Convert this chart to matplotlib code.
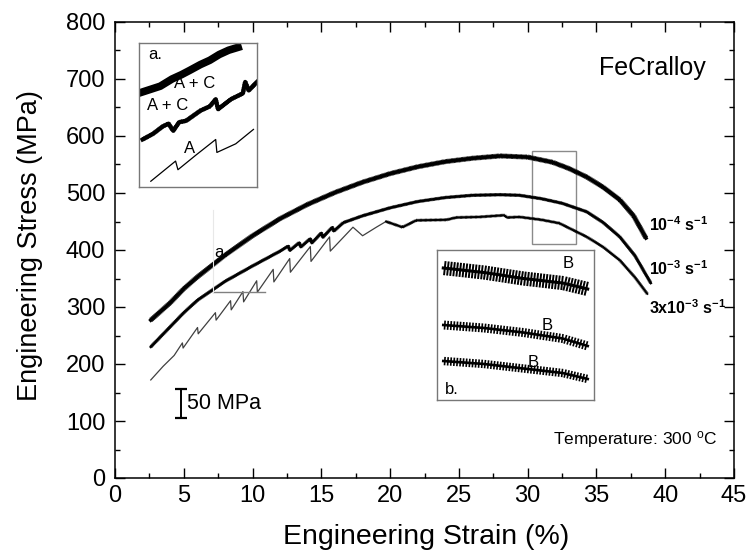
import matplotlib
matplotlib.use("Agg")
import matplotlib.pyplot as plt
import matplotlib.patheffects as pe
from matplotlib.patches import Rectangle
from matplotlib.ticker import MultipleLocator

plt.rcParams['font.family'] = ['Liberation Sans', 'DejaVu Sans']
plt.rcParams['mathtext.fontset'] = 'custom'
plt.rcParams['mathtext.rm'] = 'Liberation Sans'
plt.rcParams['mathtext.bf'] = 'Liberation Sans:bold'
plt.rcParams['mathtext.it'] = 'Liberation Sans:italic'

# ---------------- data ----------------
top_strain = [2.6, 4, 5, 6, 7, 8, 9, 10, 12, 14, 16, 18, 20, 22, 24, 26, 28, 30,
              31.8, 33, 34.3, 35.5, 36.7, 37.7, 38.6]
top_stress = [277, 307, 332, 353, 372, 391, 408, 425, 455, 480, 501, 519, 534, 546,
              555, 561, 565, 563, 554, 543, 528, 510, 488, 460, 421]

mid_strain = [2.6, 4, 5, 6, 8, 10, 12, 12.6, 12.7, 13.4, 13.5, 14.2, 14.3, 15.0, 15.1,
              15.8, 15.9, 16.6, 18, 20, 22, 24, 26, 28, 29.4, 31, 32.5, 34.3, 35.5,
              36.7, 37.8, 38.95]
mid_stress = [230, 265, 290, 312, 345, 372, 398, 407, 399, 413, 405, 420, 412, 430, 422,
              440, 433, 448, 460, 474, 485, 492, 496, 497, 496, 490, 482, 467, 448,
              423, 390, 342]

low_strain_a = [2.6, 3.5, 4.3, 4.9, 4.95, 6.0, 6.05, 7.3, 7.35, 8.4, 8.45, 9.3, 9.35,
                10.3, 10.35, 11.5, 11.55, 12.7, 12.75, 14.2, 14.25, 15.6, 15.65, 17.3,
                18.0, 19.0, 19.7]
low_stress_a = [172, 196, 215, 237, 228, 264, 253, 290, 277, 311, 295, 327, 309, 346,
                326, 366, 344, 385, 361, 406, 380, 423, 398, 440, 425, 440, 450]
low_strain_b = [19.7, 20.9, 21.9, 24.1, 24.8, 26.5, 28.3, 28.5, 29.4, 31, 32.3, 34.3,
                35.5, 36.7, 37.8, 38.7]
low_stress_b = [450, 440, 452, 453, 457, 458, 461, 457, 458, 453, 447, 423, 405, 382,
                352, 323]

rate_labels = [r'$\mathbf{10^{-4}\ s^{-1}}$', r'$\mathbf{10^{-3}\ s^{-1}}$',
               r'$\mathbf{3x10^{-3}\ s^{-1}}$']
rate_label_y = [444, 368, 298]

xticks = [0, 5, 10, 15, 20, 25, 30, 35, 40, 45]
yticks = [0, 100, 200, 300, 400, 500, 600, 700, 800]

# inset a (local 0..1 coordinates)
ia_top_x = [0.03, 0.18, 0.28, 0.36, 0.43, 0.52, 0.60, 0.68, 0.76, 0.84]
ia_top_y = [0.66, 0.70, 0.75, 0.78, 0.81, 0.85, 0.88, 0.92, 0.95, 0.97]
ia_mid_x = [0.03, 0.12, 0.20, 0.25, 0.29, 0.34, 0.40, 0.52, 0.60, 0.65, 0.67, 0.78,
            0.88, 0.90, 0.93, 1.00]
ia_mid_y = [0.33, 0.37, 0.42, 0.44, 0.39, 0.45, 0.46, 0.53, 0.56, 0.61, 0.54, 0.61,
            0.65, 0.73, 0.67, 0.73]
ia_low_x = [0.10, 0.25, 0.31, 0.33, 0.48, 0.65, 0.66, 0.82, 0.97]
ia_low_y = [0.04, 0.14, 0.18, 0.12, 0.22, 0.33, 0.24, 0.30, 0.40]

# inset b (local 0..1 coordinates)
ib_x = [0.04, 0.30, 0.55, 0.80, 0.96]
ib_top_y = [0.88, 0.85, 0.81, 0.78, 0.74]
ib_mid_y = [0.50, 0.48, 0.45, 0.41, 0.36]
ib_low_y = [0.26, 0.24, 0.21, 0.18, 0.14]

# ---------------- figure ----------------
W, H = 751, 556
fig = plt.figure(figsize=(W / 100, H / 100), dpi=100)
L, R, B, T = 115, 734, 478, 22
ax = fig.add_axes([L / W, 1 - B / H, (R - L) / W, (B - T) / H])
ax.set_xlim(0, 45)
ax.set_ylim(0, 800)
ax.set_xticks(xticks)
ax.set_yticks(yticks)
ax.xaxis.set_minor_locator(MultipleLocator(2.5))
ax.yaxis.set_minor_locator(MultipleLocator(50))
ax.tick_params(which='both', direction='in', top=True, right=True, width=1.0)
ax.tick_params(which='major', length=7, labelsize=17)
ax.tick_params(which='minor', length=3.6)
ax.tick_params(axis='x', pad=5)
ax.tick_params(axis='y', pad=7)
for s in ax.spines.values():
    s.set_linewidth(1.1)

fig.text(426 / W, 1 - 537 / H, 'Engineering Strain (%)', ha='center', va='center',
         fontsize=20.5)
fig.text(30 / W, 1 - 246 / H, 'Engineering Stress (MPa)', ha='center', va='center',
         fontsize=19.5, rotation=90)


def band(half, spacing, lw):
    return [pe.TickedStroke(spacing=spacing, angle=90, length=half, linewidth=lw),
            pe.TickedStroke(spacing=spacing, angle=-90, length=half, linewidth=lw),
            pe.Normal()]


ax.plot(top_strain, top_stress, color='black', lw=2.6,
        path_effects=band(1.7, 0.9, 0.6), solid_joinstyle='round')
ax.plot(mid_strain, mid_stress, color='black', lw=1.8,
        path_effects=band(1.1, 0.9, 0.55), solid_joinstyle='round')
ax.plot(low_strain_a, low_stress_a, color='#404040', lw=0.9)
ax.plot(low_strain_b, low_stress_b, color='black', lw=1.4,
        path_effects=band(1.0, 0.9, 0.5))

for lab, yy in zip(rate_labels, rate_label_y):
    ax.text(38.85, yy, lab, fontsize=11.5, ha='left', va='center')

ax.text(42.95, 719, 'FeCralloy', fontsize=18, ha='right', va='center')
ax.text(43.8, 66.7, r'Temperature: 300 $^{\mathrm{o}}$C', fontsize=12.5, ha='right',
        va='center')
ax.text(7.7, 395, 'a.', fontsize=12, ha='center', va='center')

# scale bar
ax.plot([4.83, 4.83], [105, 157], color='black', lw=1.4)
ax.plot([4.83, 4.83], [105, 157], color='black', lw=0, marker='_', markersize=9,
        markeredgewidth=1.6)
ax.text(5.25, 131, '50 MPa', fontsize=15.5, ha='left', va='center')

# zoom rectangles
ax.add_patch(Rectangle((30.3, 410), 3.2, 164, fill=False, edgecolor='#8a8a8a', lw=1.0))
ax.plot([7.1, 10.9], [326, 326], color='#808080', lw=1.0)
ax.plot([7.1, 7.1], [326, 470], color='#e8e8e8', lw=0.8)

# inset a
ia = fig.add_axes([139 / W, 1 - 187 / H, 118 / W, 144 / H])
ia.set_xlim(0, 1)
ia.set_ylim(0, 1)
ia.set_xticks([])
ia.set_yticks([])
for s in ia.spines.values():
    s.set_edgecolor('#777777')
    s.set_linewidth(1.0)
ia.plot(ia_top_x, ia_top_y, color='black', lw=5.5, path_effects=band(1.4, 1.2, 0.9))
ia.plot(ia_mid_x, ia_mid_y, color='black', lw=3.0, path_effects=band(1.0, 1.2, 0.8))
ia.plot(ia_low_x, ia_low_y, color='black', lw=0.9)
ia.text(0.08, 0.92, 'a.', fontsize=12, ha='left', va='center')
ia.text(0.475, 0.722, 'A + C', fontsize=12, ha='center', va='center')
ia.text(0.246, 0.569, 'A + C', fontsize=12, ha='center', va='center')
ia.text(0.43, 0.27, 'A', fontsize=12, ha='center', va='center')

# inset b
ib = fig.add_axes([437 / W, 1 - 400 / H, 157 / W, 150 / H])
ib.set_xlim(0, 1)
ib.set_ylim(0, 1)
ib.set_xticks([])
ib.set_yticks([])
for s in ib.spines.values():
    s.set_edgecolor('#777777')
    s.set_linewidth(1.0)
ib.plot(ib_x, ib_top_y, color='black', lw=2.2, path_effects=band(2.0, 2.2, 1.4))
ib.plot(ib_x, ib_mid_y, color='black', lw=1.9, path_effects=band(1.2, 2.2, 1.2))
ib.plot(ib_x, ib_low_y, color='black', lw=1.9, path_effects=band(1.1, 2.2, 1.2))
ib.text(0.835, 0.91, 'B', fontsize=12, ha='center', va='center')
ib.text(0.70, 0.50, 'B', fontsize=12, ha='center', va='center')
ib.text(0.61, 0.25, 'B', fontsize=12, ha='center', va='center')
ib.text(0.05, 0.07, 'b.', fontsize=12, ha='left', va='center')

fig.savefig('out.png', dpi=100)
